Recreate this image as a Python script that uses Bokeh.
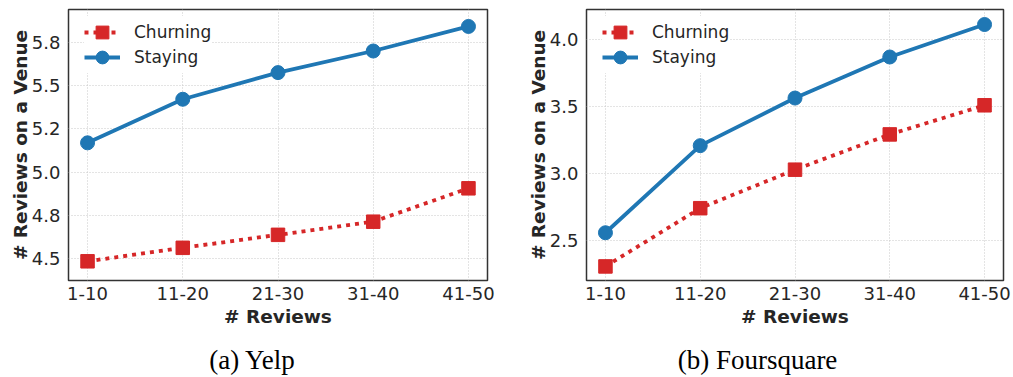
from bokeh.plotting import figure
from bokeh.layouts import column, row
from bokeh.models import Range1d, FixedTicker, Legend, LegendItem, ColumnDataSource
from bokeh.embed import file_html
from bokeh.resources import INLINE
from bokeh.core.properties import value

# ---------------- data ----------------
categories = ["1-10", "11-20", "21-30", "31-40", "41-50"]
series_names = ["Churning", "Staying"]

yelp_churning = [4.484, 4.562, 4.637, 4.713, 4.906]
yelp_staying = [5.169, 5.421, 5.575, 5.700, 5.842]
fsq_churning = [2.309, 2.743, 3.030, 3.293, 3.510]
fsq_staying = [2.560, 3.209, 3.564, 3.870, 4.112]

yelp_ticks = [4.5, 4.75, 5.0, 5.25, 5.5, 5.75]
yelp_tick_labels = ["4.5", "4.8", "5.0", "5.2", "5.5", "5.8"]
fsq_ticks = [2.5, 3.0, 3.5, 4.0]
fsq_tick_labels = ["2.5", "3.0", "3.5", "4.0"]

x_label = "# Reviews"
y_label = "# Reviews on a Venue"
captions = ["(a) Yelp", "(b) Foursquare"]

# ---------------- style ----------------
RED = "#d62728"
BLUE = "#1f77b4"
TXT = "#262626"
FONT = "DejaVu Sans"


def style_legend(lg):
    lg.margin = 0
    lg.padding = 0
    lg.spacing = 0
    lg.glyph_height = 32
    lg.glyph_width = 36
    lg.label_standoff = 14
    lg.label_text_font = FONT
    lg.label_text_font_size = "17px"
    lg.label_text_color = TXT
    lg.border_line_color = None
    lg.background_fill_color = "white"
    lg.background_fill_alpha = 1


def make_panel(churn, stay, ticks, tick_labels, y_start, y_end, width, bl, br):
    xs = list(range(len(categories)))
    p = figure(width=width, height=340, output_backend="svg", toolbar_location=None,
               x_range=Range1d(-0.2, len(categories) - 0.8),
               y_range=Range1d(y_start, y_end),
               min_border_left=bl, min_border_right=br, min_border_top=9, min_border_bottom=60)
    p.title.visible = False
    p.background_fill_color = "white"
    p.border_fill_color = "white"
    p.outline_line_color = "#333333"
    p.outline_line_width = 1.5

    src = ColumnDataSource(dict(x=xs, churn=churn, stay=stay))
    l1 = p.line("x", "churn", source=src, color=RED, line_width=3.8, line_dash="4 5", line_cap="butt")
    s1 = p.scatter("x", "churn", source=src, marker="square", size=13.5, color=RED)
    l2 = p.line("x", "stay", source=src, color=BLUE, line_width=3.8)
    s2 = p.scatter("x", "stay", source=src, marker="circle", size=14, color=BLUE)

    # axes
    p.xaxis.ticker = FixedTicker(ticks=xs)
    p.xaxis.major_label_overrides = {i: c for i, c in enumerate(categories)}
    p.yaxis.ticker = FixedTicker(ticks=ticks)
    p.yaxis.major_label_overrides = {t: l for t, l in zip(ticks, tick_labels)}
    for ax in (p.xaxis[0], p.yaxis[0]):
        ax.axis_line_color = None
        ax.major_tick_line_color = None
        ax.minor_tick_line_color = None
        ax.major_label_text_font = FONT
        ax.major_label_text_font_size = "18px"
        ax.major_label_text_color = TXT
        ax.axis_label_text_font = FONT
        ax.axis_label_text_font_size = "18.5px"
        ax.axis_label_text_font_style = "bold"
        ax.axis_label_text_color = TXT
    p.xaxis.axis_label = x_label
    p.yaxis.axis_label = y_label
    p.xaxis.major_label_standoff = 0
    p.xaxis.axis_label_standoff = 3
    p.yaxis.major_label_standoff = 2
    p.yaxis.axis_label_standoff = -2

    # grid
    p.xgrid.ticker = FixedTicker(ticks=xs)
    p.ygrid.ticker = FixedTicker(ticks=ticks)
    for g in (p.xgrid[0], p.ygrid[0]):
        g.grid_line_color = "#c8c8c8"
        g.grid_line_width = 1
        g.grid_line_dash = "1 2"

    # two single-item legends, stacked (row pitch 25 px)
    lg_b = Legend(items=[LegendItem(label=series_names[1], renderers=[l2, s2])], location=(16, 207))
    style_legend(lg_b)
    lg_a = Legend(items=[LegendItem(label=series_names[0], renderers=[l1, s1])], location=(16, 232))
    style_legend(lg_a)
    p.add_layout(lg_a)
    p.add_layout(lg_b)
    return p


p1 = make_panel(yelp_churning, yelp_staying, yelp_ticks, yelp_tick_labels, 4.373, 5.94, 500, 68, 13)
p2 = make_panel(fsq_churning, fsq_staying, fsq_ticks, fsq_tick_labels, 2.204, 4.224, 513, 86, 10)

# caption strip
cap = figure(width=1013, height=37, output_backend="svg", toolbar_location=None,
             x_range=Range1d(0, 1013), y_range=Range1d(0, 37),
             min_border=0)
cap.title.visible = False
cap.axis.visible = False
cap.grid.visible = False
cap.outline_line_color = None
cap.text(x=[252, 757], y=[18, 18], text=captions, text_font=value("Liberation Serif"),
         text_font_size="27px", text_align="center", text_baseline="alphabetic", text_color="black")

layout = column(row(p1, p2), cap)
open("out.html", "w").write(file_html(layout, INLINE))
